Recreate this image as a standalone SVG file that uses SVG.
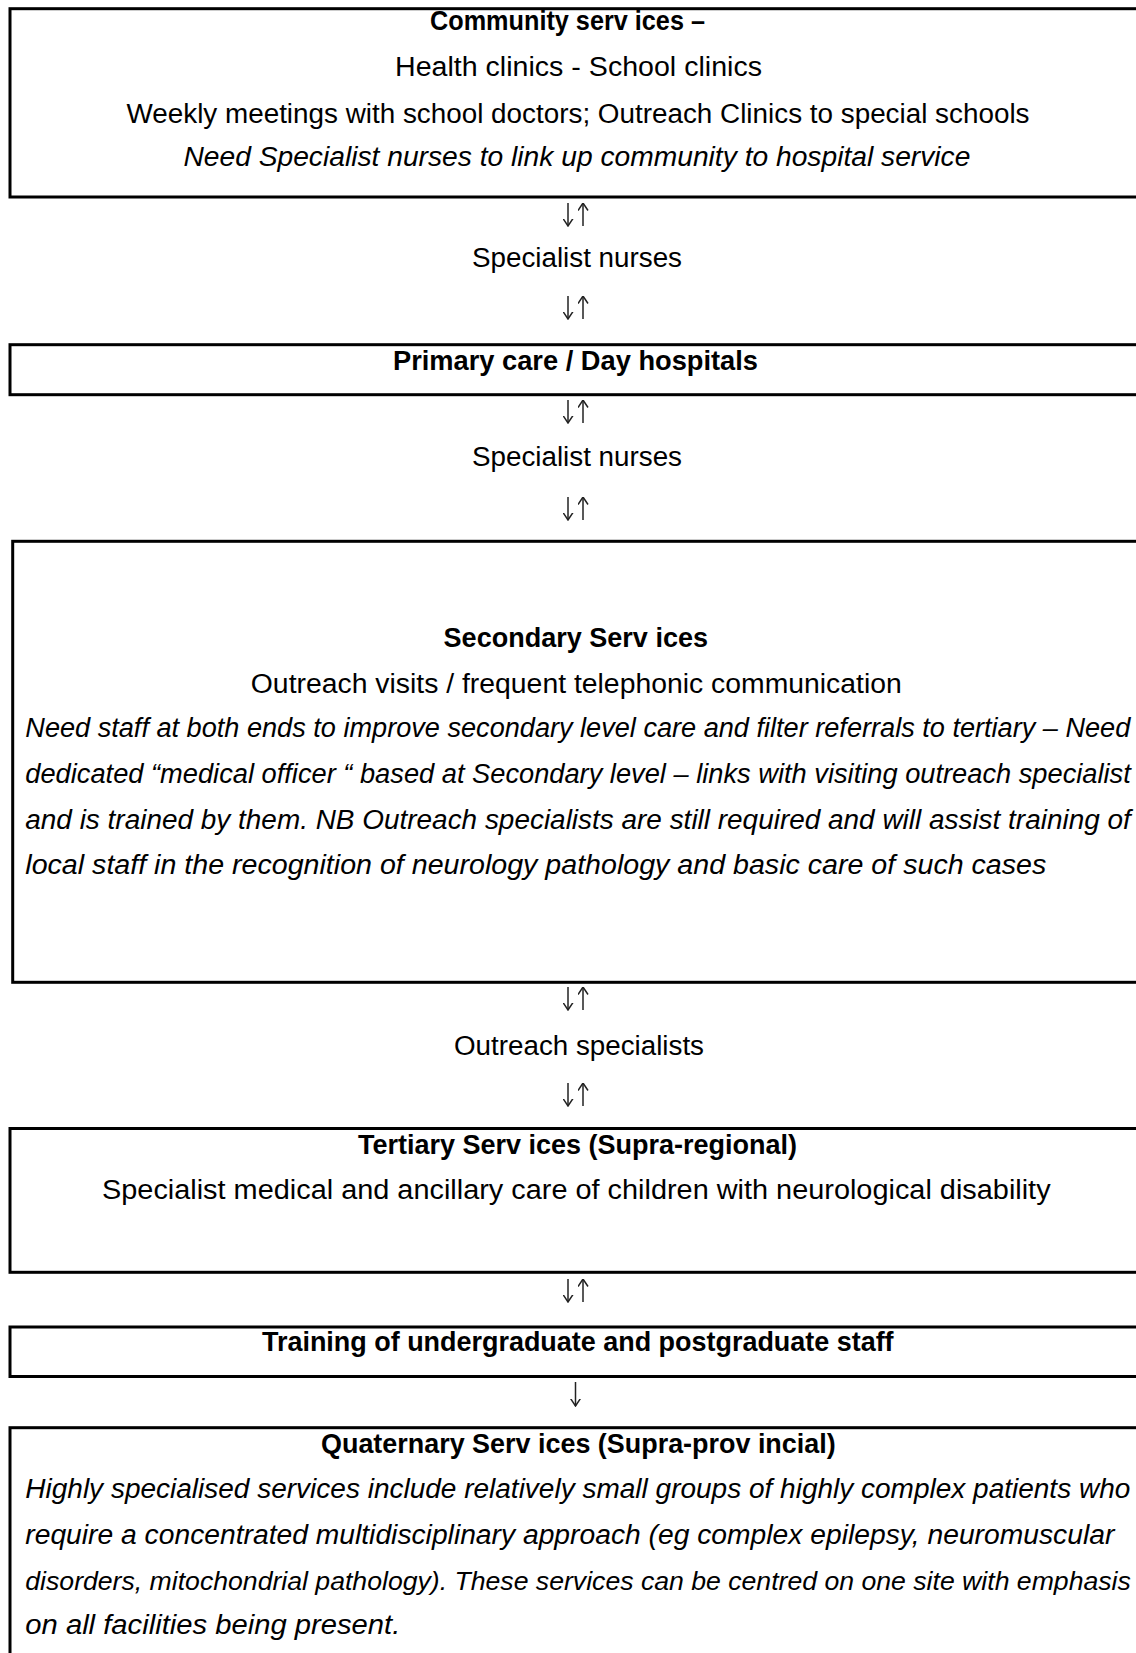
<svg xmlns="http://www.w3.org/2000/svg" width="1136" height="1653" viewBox="0 0 1136 1653">
<style>
  .box { fill: #fff; stroke: #000; stroke-width: 3; }
  text { font-family: "Liberation Sans", Arial, sans-serif; font-size: 27px; fill: #000; }
  .b { font-weight: bold; }
  .i { font-style: italic; }
  .s { font-size: 26px; }
  .arr { stroke: #222; stroke-width: 1.5; fill: none; }
</style>
<defs>
  <marker id="head" markerUnits="userSpaceOnUse" viewBox="0 0 8 11" markerWidth="8" markerHeight="11" refX="7.5" refY="5.5" orient="auto">
    <path d="M0,0.5 L7.5,5.5 L0,10.5" fill="none" stroke="#222" stroke-width="1.5"/>
  </marker>
</defs>
<rect width="1136" height="1653" fill="#fff"/>

<g id="community">
  <rect class="box" x="10" y="8.7" width="1140" height="188.3"/>
  <text class="b" x="430" y="30" textLength="275" lengthAdjust="spacingAndGlyphs">Community serv ices –</text>
  <text x="395" y="75.5" textLength="367" lengthAdjust="spacingAndGlyphs">Health clinics - School clinics</text>
  <text x="126.5" y="123" textLength="903" lengthAdjust="spacingAndGlyphs">Weekly meetings with school doctors; Outreach Clinics to special schools</text>
  <text class="i" x="183.4" y="166" textLength="787" lengthAdjust="spacingAndGlyphs">Need Specialist nurses to link up community to hospital service</text>
</g>

<g id="primary">
  <rect class="box" x="10" y="344.7" width="1140" height="50"/>
  <text class="b" x="393" y="369.5" textLength="365" lengthAdjust="spacingAndGlyphs">Primary care / Day hospitals</text>
</g>

<g id="secondary">
  <rect class="box" x="12.7" y="541.3" width="1140" height="441"/>
  <text class="b" x="443.6" y="646.5" textLength="264.4" lengthAdjust="spacingAndGlyphs">Secondary Serv ices</text>
  <text x="250.8" y="693" textLength="651" lengthAdjust="spacingAndGlyphs">Outreach visits / frequent telephonic communication</text>
  <text class="i" x="25.3" y="737" textLength="1105" lengthAdjust="spacingAndGlyphs">Need staff at both ends to improve secondary level care and filter referrals to tertiary – Need</text>
  <text class="i" x="25.3" y="782.5" textLength="1105.5" lengthAdjust="spacingAndGlyphs">dedicated “medical officer “ based at Secondary level – links with visiting outreach specialist</text>
  <text class="i" x="25.3" y="828.5" textLength="1105.5" lengthAdjust="spacingAndGlyphs">and is trained by them. NB Outreach specialists are still required and will assist training of</text>
  <text class="i" x="25.3" y="873.5" textLength="1021" lengthAdjust="spacingAndGlyphs">local staff in the recognition of neurology pathology and basic care of such cases</text>
</g>

<g id="tertiary">
  <rect class="box" x="10" y="1128.5" width="1140" height="143.8"/>
  <text class="b" x="358" y="1153.5" textLength="439" lengthAdjust="spacingAndGlyphs">Tertiary Serv ices (Supra-regional)</text>
  <text x="102" y="1199" textLength="948.6" lengthAdjust="spacingAndGlyphs">Specialist medical and ancillary care of children with neurological disability</text>
</g>

<g id="training">
  <rect class="box" x="10" y="1327" width="1140" height="49.5"/>
  <text class="b" x="262" y="1350.5" textLength="631.6" lengthAdjust="spacingAndGlyphs">Training of undergraduate and postgraduate staff</text>
</g>

<g id="quaternary">
  <rect class="box" x="10" y="1427.7" width="1140" height="260"/>
  <text class="b" x="321" y="1453" textLength="514.7" lengthAdjust="spacingAndGlyphs">Quaternary Serv ices (Supra-prov incial)</text>
  <text class="i" x="25.3" y="1498" textLength="1105" lengthAdjust="spacingAndGlyphs">Highly specialised services include relatively small groups of highly complex patients who</text>
  <text class="i" x="25.3" y="1543.5" textLength="1089" lengthAdjust="spacingAndGlyphs">require a concentrated multidisciplinary approach (eg complex epilepsy, neuromuscular</text>
  <text class="i s" x="25.3" y="1589.5" textLength="1105.5" lengthAdjust="spacingAndGlyphs">disorders, mitochondrial pathology). These services can be centred on one site with emphasis</text>
  <text class="i" x="25.3" y="1633.5" textLength="375" lengthAdjust="spacingAndGlyphs">on all facilities being present.</text>
</g>

<g id="connectors">
  <line class="arr" x1="568" y1="203" x2="568" y2="226" marker-end="url(#head)"/>
  <line class="arr" x1="583" y1="226" x2="583" y2="203" marker-end="url(#head)"/>
  <text x="472" y="267" textLength="210" lengthAdjust="spacingAndGlyphs">Specialist nurses</text>
  <line class="arr" x1="568" y1="296" x2="568" y2="319" marker-end="url(#head)"/>
  <line class="arr" x1="583" y1="319" x2="583" y2="296" marker-end="url(#head)"/>
  <line class="arr" x1="568" y1="400" x2="568" y2="423" marker-end="url(#head)"/>
  <line class="arr" x1="583" y1="423" x2="583" y2="400" marker-end="url(#head)"/>
  <text x="472" y="465.5" textLength="210" lengthAdjust="spacingAndGlyphs">Specialist nurses</text>
  <line class="arr" x1="568" y1="497" x2="568" y2="520" marker-end="url(#head)"/>
  <line class="arr" x1="583" y1="520" x2="583" y2="497" marker-end="url(#head)"/>
  <line class="arr" x1="568" y1="987" x2="568" y2="1010" marker-end="url(#head)"/>
  <line class="arr" x1="583" y1="1010" x2="583" y2="987" marker-end="url(#head)"/>
  <text x="454" y="1054.5" textLength="250" lengthAdjust="spacingAndGlyphs">Outreach specialists</text>
  <line class="arr" x1="568" y1="1083" x2="568" y2="1106" marker-end="url(#head)"/>
  <line class="arr" x1="583" y1="1106" x2="583" y2="1083" marker-end="url(#head)"/>
  <line class="arr" x1="568" y1="1279" x2="568" y2="1302" marker-end="url(#head)"/>
  <line class="arr" x1="583" y1="1302" x2="583" y2="1279" marker-end="url(#head)"/>
  <line class="arr" x1="575.5" y1="1382" x2="575.5" y2="1406" marker-end="url(#head)"/>
</g>
</svg>
